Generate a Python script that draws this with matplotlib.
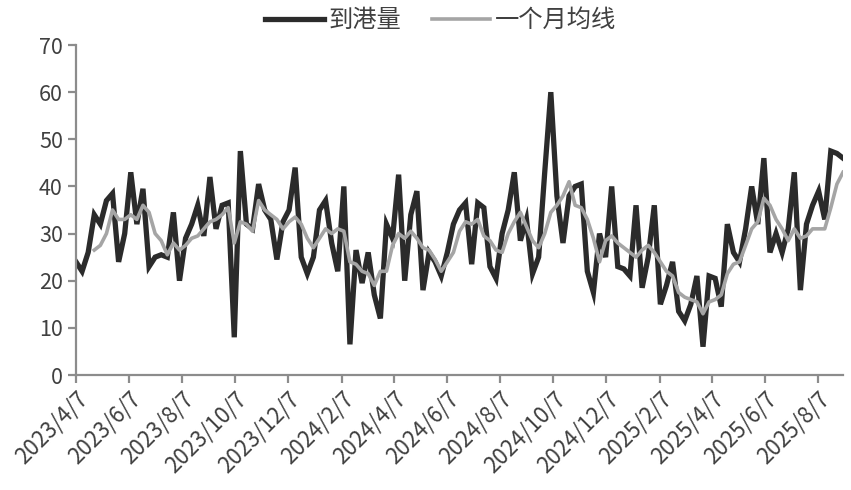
import numpy as np
import pandas as pd
import matplotlib
matplotlib.use("Agg")
import matplotlib.pyplot as plt
import matplotlib.dates as mdates

plt.rcParams['font.family'] = ['Noto Sans CJK SC', 'DejaVu Sans']

start_date = "2023-04-07"
arrivals = [
    24, 22, 26, 34, 32, 37, 38.5, 24, 30, 43,
    32, 39.5, 23, 25, 25.5, 25, 34.5, 20, 29, 32,
    36, 29.5, 42, 31, 36, 36.5, 8, 47.5, 32, 31,
    40.5, 35, 33, 24.5, 32.5, 35, 44, 25, 21.5, 25,
    35, 37, 28, 22, 40, 6.5, 26.5, 19.5, 26, 17,
    12, 32, 29, 42.5, 20, 34, 39, 18, 26, 24,
    21, 26, 32, 35, 36.5, 23.5, 36.5, 35.5, 23, 20.5,
    30, 35, 43, 28.5, 33, 21.5, 25, 43, 60, 38,
    28, 38, 40, 40.5, 22, 17.5, 30, 25, 40, 23,
    22.5, 21, 36, 18.5, 25, 36, 15, 19, 24, 13.5,
    11.5, 15, 21, 6, 21, 20.5, 14.5, 32, 26, 24,
    31, 40, 32, 46, 26, 30, 26, 31, 43, 18,
    32, 36, 39, 33, 47.5, 47, 46,
]
monthly_ma = [np.nan, np.nan, np.nan,
    26.5, 27.5, 30, 35, 33, 33, 34, 33, 36, 34.5,
    30, 28.5, 25.5, 28, 26.5, 27.5, 29, 29.5, 31, 32.5,
    33, 34, 35.5, 28, 32.5, 32, 30.5, 37, 35, 34,
    33, 31, 32.5, 33.5, 32, 29, 27, 29, 31, 30,
    31, 30.5, 24, 23.5, 22, 21.5, 19, 22, 22, 27.5,
    30, 29, 30.5, 29, 27, 26.5, 24.5, 22, 24, 26,
    30.5, 32.5, 32, 33, 29.5, 28.5, 26.5, 26, 30, 32.5,
    34.5, 31.5, 28.5, 27, 30, 34.5, 36, 38, 41, 36,
    35.5, 33, 29, 24, 28.5, 29.5, 28, 27, 26, 25,
    26.5, 27.5, 26, 24, 22, 21, 17.5, 16.5, 16, 15.5,
    13, 15.5, 16, 17, 21.5, 23.5, 24, 27.5, 31, 32.5,
    37.5, 36, 33, 31, 28.5, 31, 29, 29.5, 31, 31,
    31, 35.5, 40.5, 43,
]
tick_dates = ["2023-04-07", "2023-06-07", "2023-08-07", "2023-10-07", "2023-12-07",
              "2024-02-07", "2024-04-07", "2024-06-07", "2024-08-07", "2024-10-07",
              "2024-12-07", "2025-02-07", "2025-04-07", "2025-06-07", "2025-08-07"]
y_ticks = [0, 10, 20, 30, 40, 50, 60, 70]

dates = pd.date_range(start_date, periods=len(arrivals), freq="7D")
tick_dt = pd.to_datetime(tick_dates)
tick_labels = [f"{d.year}/{d.month}/{d.day}" for d in tick_dt]

fig = plt.figure(figsize=(8.51, 4.90), dpi=100)
ax = fig.add_axes([76/851, 1 - 375/490, (843 - 76)/851, (375 - 45)/490])

l1, = ax.plot(dates, arrivals, color="#2b2b2b", lw=3.8, solid_joinstyle="miter", label="到港量")
l2, = ax.plot(dates, monthly_ma, color="#a5a5a5", lw=2.6, label="一个月均线")

ax.set_xlim(dates[0], dates[-1])
ax.set_ylim(0, 70)
ax.set_yticks(y_ticks)
ax.set_xticks(tick_dt)
ax.set_xticklabels(tick_labels, rotation=45, ha="right", rotation_mode="anchor")

for s in ["top", "right"]:
    ax.spines[s].set_visible(False)
for s in ["left", "bottom"]:
    ax.spines[s].set_color("#8c8c8c")
    ax.spines[s].set_linewidth(1.6)
ax.tick_params(axis="both", colors="#8c8c8c", width=1.6, length=6, labelsize=15.5,
               labelcolor="#404040", direction="out")
ax.tick_params(axis="x", pad=3, labelsize=16)

fig.legend(handles=[l1, l2], loc="upper center", bbox_to_anchor=(0.518, 1.03), ncol=2,
           frameon=False, fontsize=17.5, handlelength=2.4, columnspacing=1.25,
           handletextpad=0.2, labelcolor="#404040")

fig.savefig("out.png", dpi=100)
